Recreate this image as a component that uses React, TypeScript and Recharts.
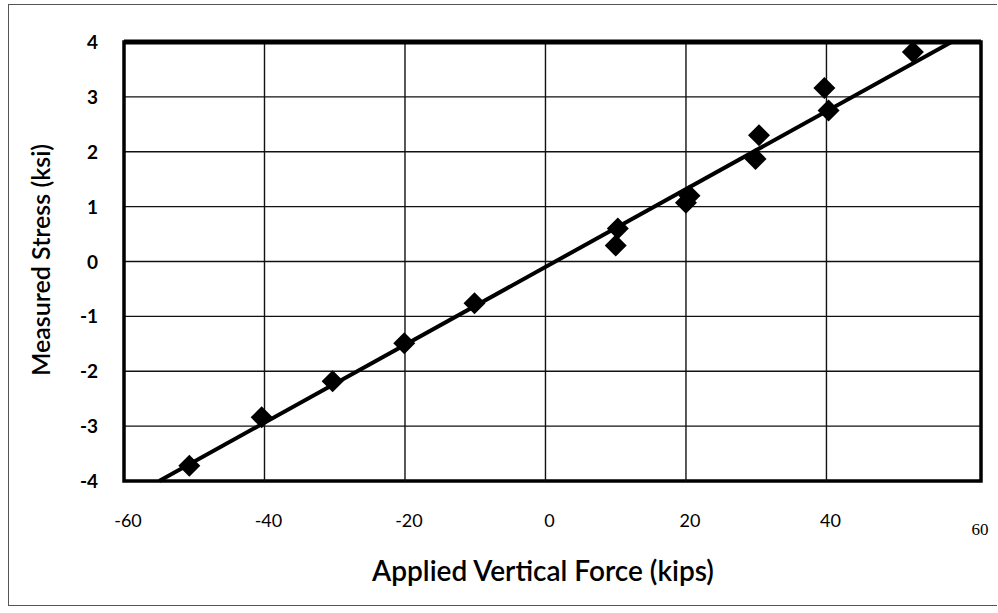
import { CartesianGrid, ReferenceArea, ReferenceLine, Scatter, ScatterChart, XAxis, YAxis } from "recharts";

// Load test readings: applied vertical force vs. measured stress
const forceKips = [-50.7, -40.4, -30.3, -20.1, -10.1, 10, 10.3, 20, 20.5, 29.9, 30.4, 39.7, 40.3, 52.3];
const stressKsi = [-3.72, -2.84, -2.18, -1.49, -0.76, 0.29, 0.6, 1.07, 1.2, 1.87, 2.3, 3.16, 2.75, 3.82];

// Ends of the fitted line, where it leaves the plot box
const fitForce = [-55, 57.8];
const fitStress = [-4, 4];

const xTicks = [-60, -40, -20, 0, 20, 40, 60];
const yTicks = [-4, -3, -2, -1, 0, 1, 2, 3, 4];
const gridForce = [-40, -20, 0, 20, 40];

const points = forceKips.map((force, i) => ({ force, stress: stressKsi[i] }));

const FONT = "Lato, 'Open Sans', sans-serif";

function Diamond(props: any) {
  const { cx, cy } = props;
  const r = 11;
  return <path d={`M${cx},${cy - r}L${cx + r},${cy}L${cx},${cy + r}L${cx - r},${cy}Z`} fill="#000" />;
}

function XTick(props: any) {
  const { x, y, payload } = props;
  // the last label sits out at the frame edge, a little lower and in a serif face
  const last = payload.value === 60;
  return (
    <text
      x={last ? x + 13 : x + 4}
      y={last ? y + 54 : y + 46}
      textAnchor="middle"
      fontFamily={last ? "'Liberation Serif', serif" : FONT}
      fontSize={last ? 17 : 18}
      fill="#000"
    >
      {payload.value}
    </text>
  );
}

function YTick(props: any) {
  const { x, y, payload } = props;
  return (
    <text x={x - 26} y={y + 7} textAnchor="end" fontFamily={FONT} fontWeight={700} fontSize={19} fill="#000">
      {payload.value}
    </text>
  );
}

export default function App() {
  return (
    <div style={{ position: "absolute", left: 0, top: 0, width: 998, height: 613, background: "#fff" }}>
      <div
        style={{
          position: "absolute",
          left: 8,
          top: 4,
          width: 988,
          height: 600,
          borderLeft: "1px solid #555",
          borderTop: "1px solid #555",
          borderBottom: "1px solid #555",
        }}
      />
      <ScatterChart width={998} height={613} margin={{ top: 42, right: 17, left: 64, bottom: 92 }}>
        <CartesianGrid vertical={false} stroke="#111" strokeWidth={1.4} />
        <XAxis
          type="number"
          dataKey="force"
          domain={[-60, 62]}
          ticks={xTicks}
          interval={0}
          height={40}
          axisLine={false}
          tickLine={false}
          tickSize={0}
          tickMargin={0}
          tick={XTick}
        />
        <YAxis
          type="number"
          dataKey="stress"
          domain={[-4, 4]}
          ticks={yTicks}
          interval={0}
          width={60}
          axisLine={false}
          tickLine={false}
          tickSize={0}
          tickMargin={0}
          tick={YTick}
        />
        {gridForce.map((f) => (
          <ReferenceLine key={f} x={f} stroke="#111" strokeWidth={1.4} />
        ))}
        <ReferenceLine
          segment={[
            { x: fitForce[0], y: fitStress[0] },
            { x: fitForce[1], y: fitStress[1] },
          ]}
          stroke="#000"
          strokeWidth={4}
        />
        <Scatter data={points} shape={Diamond} isAnimationActive={false} />
        <ReferenceArea x1={-60} x2={62} y1={-4} y2={4} fill="none" stroke="#000" strokeWidth={3.5} />
        <ReferenceLine y={4} stroke="#000" strokeWidth={5} />
      </ScatterChart>
      <div
        style={{
          position: "absolute",
          left: 543,
          top: 570,
          transform: "translate(-50%, -50%)",
          whiteSpace: "nowrap",
          fontFamily: FONT,
          fontWeight: 600,
          fontSize: 28,
          color: "#000",
        }}
      >
        Applied Vertical Force (kips)
      </div>
      <div
        style={{
          position: "absolute",
          left: 40,
          top: 260,
          transform: "translate(-50%, -50%) rotate(-90deg)",
          whiteSpace: "nowrap",
          fontFamily: FONT,
          fontWeight: 600,
          fontSize: 25,
          color: "#000",
        }}
      >
        Measured Stress (ksi)
      </div>
    </div>
  );
}
